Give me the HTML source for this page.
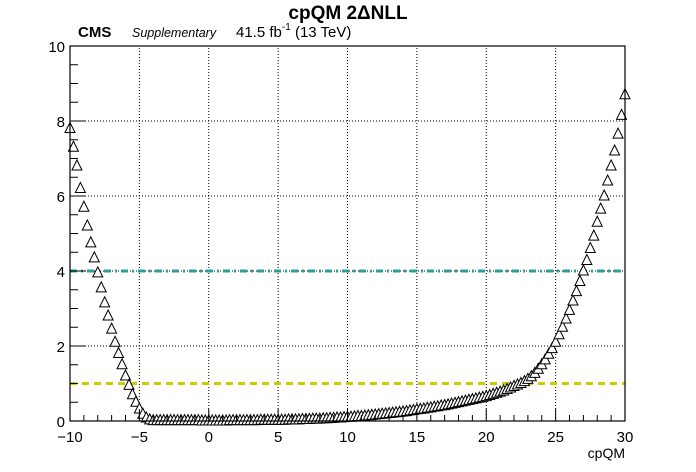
<!DOCTYPE html>
<html><head><meta charset="utf-8"><style>
body{margin:0;background:#fff;}
svg{display:block;font-family:"Liberation Sans",Arial,sans-serif;}
</style></head><body>
<svg id="chart" width="696" height="472" viewBox="0 0 696 472" xmlns="http://www.w3.org/2000/svg">
<text x="348" y="19" text-anchor="middle" font-size="19" font-weight="bold">cpQM 2ΔNLL</text>
<text x="78" y="37" font-size="15" font-weight="bold">CMS</text>
<text x="132" y="37" font-size="12.5" font-style="italic">Supplementary</text>
<text x="236" y="37" font-size="15">41.5 fb<tspan font-size="10" dy="-7">-1</tspan><tspan dy="7"> (13 TeV)</tspan></text>
<g id="grid"></g>
<g id="lines"></g>
<g id="marks"></g>
<g id="axes"></g>
<text x="625" y="458" text-anchor="end" font-size="14">cpQM</text>
</svg>
<script>
const xStart = -10;
const xStep = 0.25;
const yValues = [
7.8,7.3,6.8,6.2,5.7,5.2,4.75,4.35,3.95,3.55,3.15,2.8,2.45,2.1,1.8,1.5,1.2,0.95,0.7,0.5,0.32,0.18,0.08,0.03,0.01,
0.01,0.01,0.01,0.01,0.01,0.01,0.01,0.01,0.01,0.01,0.01,0.01,0.01,0.0,0.0,0.0,
0.0,0.0,0.0,0.0,0.0,0.01,0.01,0.01,0.01,0.01,0.01,0.01,0.01,0.01,0.02,0.02,0.02,0.02,0.02,0.02,
0.02,0.02,0.03,0.03,0.03,0.03,0.04,0.04,0.04,0.05,0.05,0.05,0.06,0.06,0.07,0.07,0.08,0.08,0.09,0.1,
0.1,0.11,0.12,0.12,0.13,0.14,0.15,0.16,0.17,0.18,0.19,0.2,0.21,0.22,0.23,0.24,0.25,0.27,0.28,0.3,
0.31,0.32,0.34,0.35,0.37,0.38,0.4,0.41,0.43,0.45,0.47,0.49,0.51,0.53,0.55,0.57,0.59,0.61,0.63,0.65,
0.68,0.71,0.74,0.77,0.8,0.84,0.88,0.92,0.96,1.0,1.05,1.11,1.18,1.27,1.38,1.5,1.63,1.78,1.93,2.1,
2.3,2.5,2.72,2.95,3.2,3.45,3.72,4.0,4.28,4.6,4.93,5.3,5.65,6.0,6.4,6.8,7.2,7.65,8.15,8.7
];
const xTicks = [-10,-5,0,5,10,15,20,25,30];
const xTickLabels = ["\u221210","\u22125","0","5","10","15","20","25","30"];
const yTicks = [0,2,4,6,8,10];
const yTickLabels = ["0","2","4","6","8","10"];
const thresholds = [4,1];

const NS="http://www.w3.org/2000/svg";
const X0=70,X1=625,Y0=421,Y1=46, xmin=-10,xmax=30,ymin=0,ymax=10;
const sx=v=>X0+(v-xmin)/(xmax-xmin)*(X1-X0);
const sy=v=>Y0-(v-ymin)/(ymax-ymin)*(Y0-Y1);
function mk(tag,attrs,parent){const e=document.createElementNS(NS,tag);for(const k in attrs)e.setAttribute(k,attrs[k]);parent.appendChild(e);return e;}
const grid=document.getElementById('grid'),lines=document.getElementById('lines'),marks=document.getElementById('marks'),axes=document.getElementById('axes');
xTicks.forEach(t=>{const l=mk('line',{x1:sx(t),x2:sx(t),y1:Y0,y2:Y1,stroke:'#000','stroke-width':1,'stroke-dasharray':'1,2'},grid);

});
yTicks.forEach(t=>{const l=mk('line',{x1:X0,x2:X1,y1:sy(t),y2:sy(t),stroke:'#000','stroke-width':1,'stroke-dasharray':'1,2'},grid);

});
const l4=mk('line',{x1:X0,x2:X1,y1:sy(thresholds[0]),y2:sy(thresholds[0]),stroke:'#2e9c99','stroke-width':3,'stroke-dasharray':'7,4,2,4'},lines);


const l1=mk('line',{x1:X0,x2:X1,y1:sy(thresholds[1]),y2:sy(thresholds[1]),stroke:'#cccc00','stroke-width':3,'stroke-dasharray':'7,5'},lines);


yValues.forEach((v,i)=>{const x=sx(xStart+i*xStep),y=sy(v);
const p=mk('polygon',{points:`${x-5},${y+4} ${x+5},${y+4} ${x},${y-6}`,fill:'#fff',stroke:'#000','stroke-width':1},marks);

});
const frame=mk('rect',{x:X0,y:Y1,width:X1-X0,height:Y0-Y1,fill:'none',stroke:'#000','stroke-width':1.2},axes);


for(let v=xmin;v<=xmax;v+=1){const major=(v%5===0);const t=mk('line',{x1:sx(v),x2:sx(v),y1:Y0,y2:Y0-(major?12:6),stroke:'#000'},axes);

}
for(let v=ymin;v<=ymax;v+=0.5){const major=(Math.abs(v%2)<1e-9);const t=mk('line',{x1:X0,x2:X0+(major?15:8),y1:sy(v),y2:sy(v),stroke:'#000'},axes);

}
xTicks.forEach((t,i)=>{const e=mk('text',{x:sx(t),y:442,'text-anchor':'middle','font-size':15},axes);e.textContent=xTickLabels[i];

});
yTicks.forEach((t,i)=>{const e=mk('text',{x:65,y:sy(t)+6,'text-anchor':'end','font-size':15},axes);e.textContent=yTickLabels[i];

});
</script>
</body></html>
